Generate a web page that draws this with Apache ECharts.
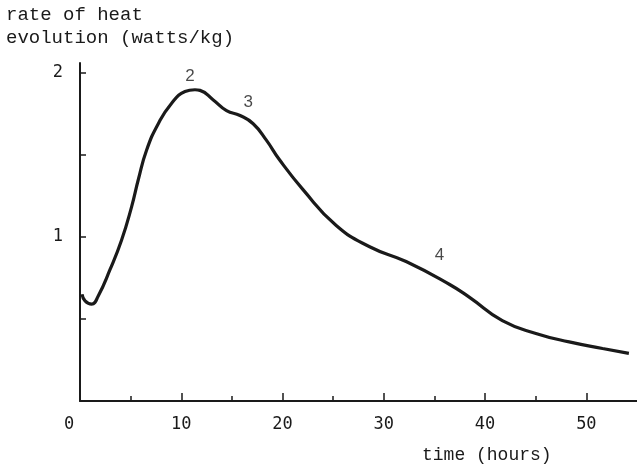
<!DOCTYPE html>
<html>
<head>
<meta charset="utf-8">
<script src="https://cdn.jsdelivr.net/npm/echarts@6/dist/echarts.min.js"></script>
<style>
  html, body { margin: 0; padding: 0; background: #fff; }
  #chart { width: 637px; height: 466px; }
</style>
</head>
<body>
<div id="chart"></div>
<script>
// Heat evolution curve: time in hours vs rate in watts/kg
const timeHours = [0.2, 0.5, 1.15, 1.8, 2.96, 4.1, 5.1, 5.76, 6.58, 7.73, 9.05, 10.37, 11.35, 11.85, 13.16, 14.47, 15.8, 17.1, 18.4, 19.7, 22.0, 25.3, 28.6, 32.2, 36.5, 38.5, 41.7, 45.1, 48.3, 51.6, 54.2];
const heatRate  = [0.65, 0.61, 0.59, 0.64, 0.80, 0.98, 1.185, 1.35, 1.53, 1.69, 1.815, 1.886, 1.897, 1.893, 1.835, 1.77, 1.74, 1.69, 1.59, 1.47, 1.29, 1.07, 0.94, 0.85, 0.71, 0.63, 0.49, 0.41, 0.36, 0.32, 0.29];

// Peak markers placed beside the curve
const markTime  = [10.86, 16.6, 35.5];
const markRate  = [1.98, 1.82, 0.89];
const markText  = ['2', '3', '4'];

const xMajorTicks = [10, 20, 30, 40, 50];
const xMinorTicks = [5, 15, 25, 35, 45];
const xTickLabels = [0, 10, 20, 30, 40, 50];
const yTicks = [0.5, 1, 1.5, 2];
const yTickLabels = [1, 2];

const ink = '#1a1a1a';
const mono = '"Liberation Mono", "DejaVu Sans Mono", monospace';
const digits = '"DejaVu Sans Mono", "Liberation Mono", monospace';

const chart = echarts.init(document.getElementById('chart'));
chart.setOption({
  animation: false,
  backgroundColor: '#fff',
  grid: { left: 80, right: 0, top: 63, bottom: 65 },
  xAxis: [{
    type: 'value', min: 0, max: 55,
    axisLine: { show: true, lineStyle: { color: ink, width: 2 } },
    axisTick: { show: true, inside: true, length: 8, customValues: xMajorTicks, lineStyle: { color: ink, width: 1.5 } },
    axisLabel: {
      customValues: xTickLabels, margin: 15, color: ink,
      fontFamily: digits, fontSize: 17,
      formatter: v => v === 0 ? '{z|0}' : String(v),
      rich: { z: { fontFamily: digits, fontSize: 17, color: ink, padding: [0, 22, 0, 0] } }
    },
    splitLine: { show: false }
  }, {
    type: 'value', min: 0, max: 55, position: 'bottom',
    axisLine: { show: false },
    axisTick: { show: true, inside: true, length: 5, customValues: xMinorTicks, lineStyle: { color: ink, width: 1.5 } },
    axisLabel: { show: false },
    splitLine: { show: false }
  }],
  yAxis: {
    type: 'value', min: 0, max: 2.06,
    axisLine: { show: true, lineStyle: { color: ink, width: 2 } },
    axisTick: { show: true, inside: true, length: 6, customValues: yTicks, lineStyle: { color: ink, width: 1.5 } },
    axisLabel: { customValues: yTickLabels, margin: 17, color: ink, fontFamily: digits, fontSize: 17 },
    splitLine: { show: false }
  },
  series: [{
    type: 'line',
    data: timeHours.map((t, i) => [t, heatRate[i]]),
    smooth: 0.5,
    showSymbol: false,
    lineStyle: { color: ink, width: 3.2 }
  }, {
    type: 'scatter',
    data: markTime.map((t, i) => [t, markRate[i], markText[i]]),
    symbolSize: 0,
    label: {
      show: true, position: 'inside', color: ink,
      fontFamily: '"Liberation Sans", "DejaVu Sans", sans-serif', fontSize: 17,
      formatter: p => p.data[2]
    }
  }],
  graphic: [{
    type: 'text', left: 6, top: 3,
    style: {
      text: 'rate of heat\nevolution (watts/kg)',
      font: '19px ' + mono, fill: ink, lineHeight: 23
    }
  }, {
    type: 'text', left: 422, top: 446,
    style: { text: 'time (hours)', font: '18px ' + mono, fill: ink }
  }]
});
</script>
</body>
</html>
